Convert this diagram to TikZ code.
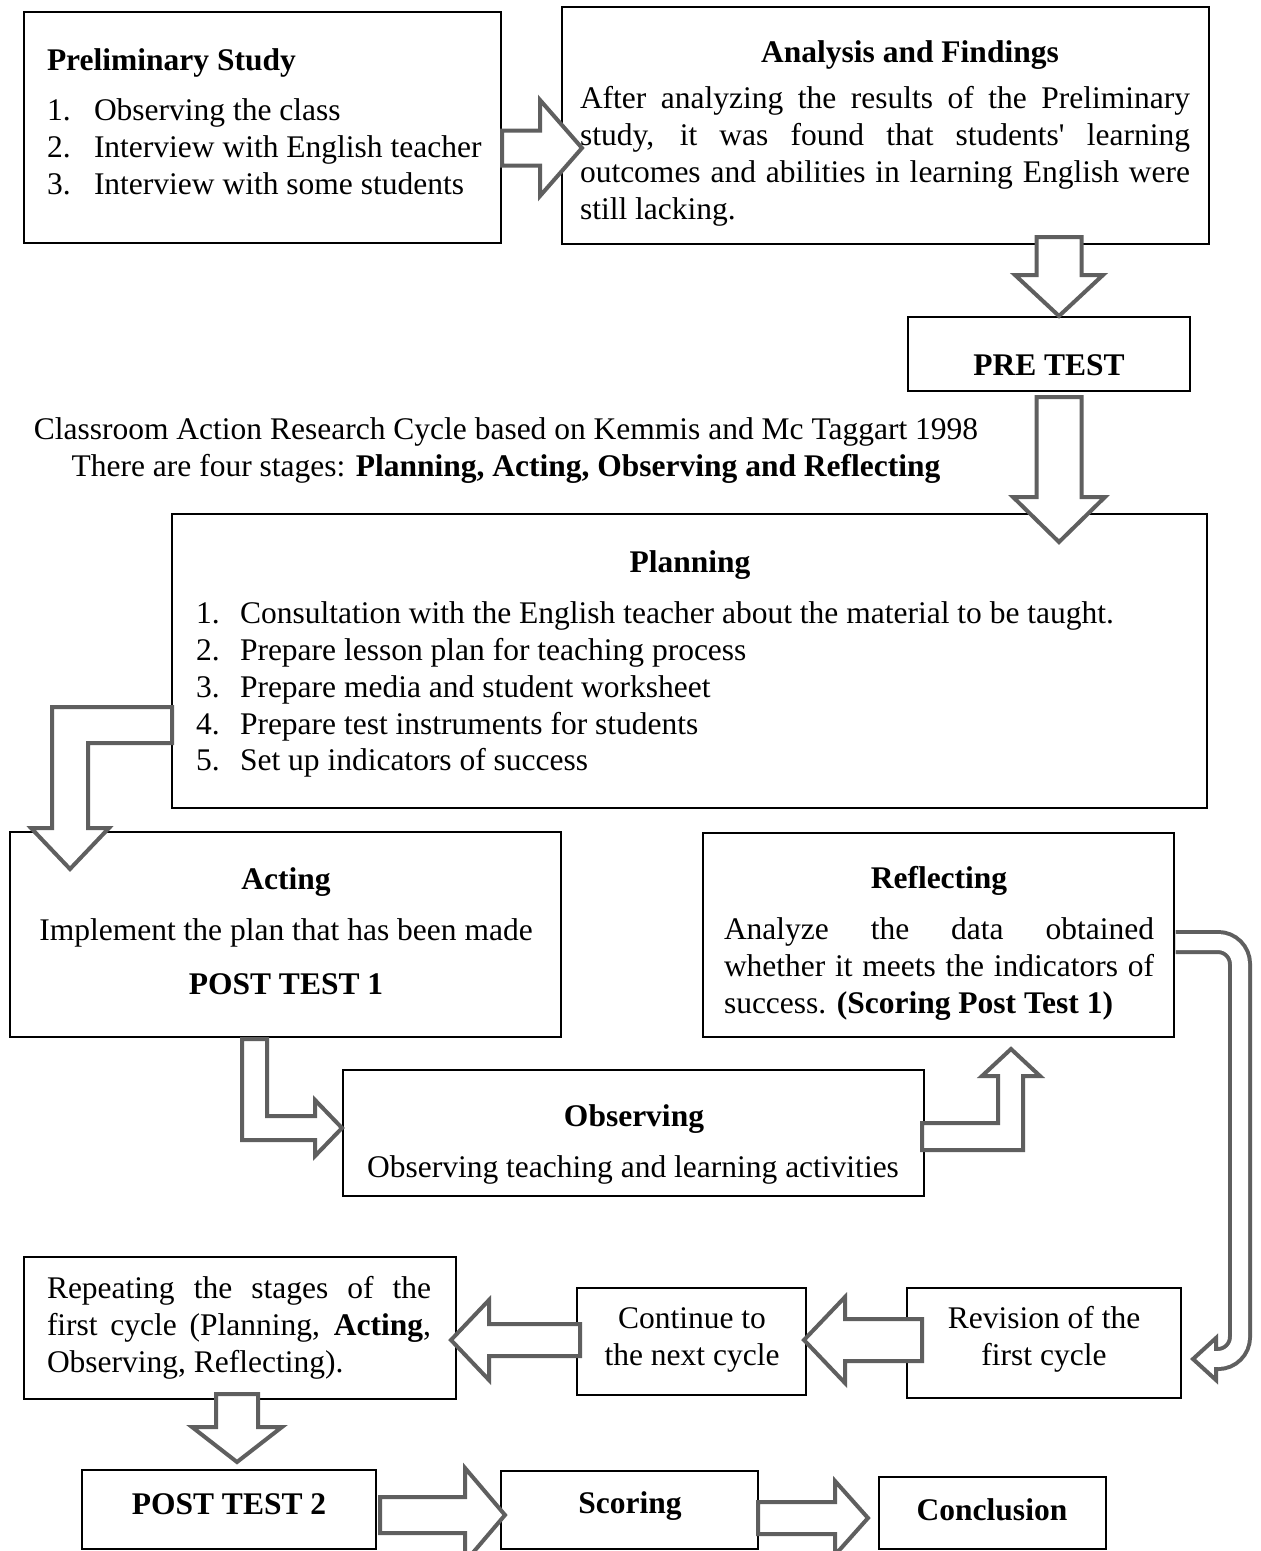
\documentclass[tikz,border=0pt]{standalone}
\usepackage{fontspec}
\setmainfont{Liberation Serif}
\definecolor{agray}{RGB}{95,95,95}
\newcommand\fs{\fontsize{31.5}{37}\selectfont}
\newcommand\mybox[5]{\node[box, minimum width={#4-#2}, minimum height={#5-#3}] (#1) at ({(#2+#4)/2},{(#3+#5)/2}) {};}
\begin{document}
\begin{tikzpicture}[x=1pt,y=-1pt,
  box/.style={draw=black, line width=1.5pt, inner sep=0pt, outer sep=0pt},
  txt/.style={inner sep=0pt, outer sep=0pt, font=\fs},
  lt/.style={txt, anchor=base west},
  ct/.style={txt, anchor=base},
  blk/.style={draw=agray, line width=4pt, fill=white, line join=miter, miter limit=10}]
\useasboundingbox[fill=white] (0,0) rectangle (1261,1551);

% ---------- boxes ----------
\mybox{prelim}{24}{12}{501}{243}
\mybox{analysis}{562}{7}{1209}{244}
\mybox{pre}{908}{317}{1190}{391}
\mybox{planning}{172}{514}{1207}{808}
\mybox{acting}{10}{832}{561}{1037}
\mybox{reflect}{703}{833}{1174}{1037}
\mybox{observe}{343}{1070}{924}{1196}
\mybox{repeat}{24}{1257}{456}{1399}
\mybox{cont}{577}{1288}{806}{1395}
\mybox{revision}{907}{1288}{1181}{1398}
\mybox{posttwo}{82}{1470}{376}{1549}
\mybox{scoring}{501}{1471}{758}{1549}
\mybox{conclusion}{879}{1477}{1106}{1549}

% ---------- texts ----------
\node[lt] (psT) at (47,70) {\textbf{Preliminary Study}};
\node[lt] (ps1n) at (47,120) {1.};
\node[lt] (ps1) at (94,120) {Observing the class};
\node[lt] (ps2n) at (47,157) {2.};
\node[lt] (ps2) at (94,157) {Interview with English teacher};
\node[lt] (ps3n) at (47,194) {3.};
\node[lt] (ps3) at (94,194) {Interview with some students};

\node[ct] (anT) at (910,62) {\textbf{Analysis and Findings}};
\node[lt] (an1) at (580,108) {\makebox[610pt][s]{After analyzing the results of the Preliminary}};
\node[lt] (an2) at (580,145) {\makebox[610pt][s]{study, it was found that students\textquotesingle{} learning}};
\node[lt] (an3) at (580,182) {\makebox[610pt][s]{outcomes and abilities in learning English were}};
\node[lt] (an4) at (580,219) {still lacking.};

\node[ct] (preT) at (1049,375) {\textbf{PRE TEST}};

\node[ct] (cap1) at (506,439) {Classroom Action Research Cycle based on Kemmis and Mc Taggart 1998};
\node[ct] (cap2) at (506,476) {There are four stages: \textbf{Planning, Acting, Observing and Reflecting}};

\node[ct] (plT) at (690,572) {\textbf{Planning}};
\node[lt] (pl1n) at (196,623) {1.};
\node[lt] (pl1) at (240,623) {Consultation with the English teacher about the material to be taught.};
\node[lt] (pl2n) at (196,660) {2.};
\node[lt] (pl2) at (240,660) {Prepare lesson plan for teaching process};
\node[lt] (pl3n) at (196,697) {3.};
\node[lt] (pl3) at (240,697) {Prepare media and student worksheet};
\node[lt] (pl4n) at (196,734) {4.};
\node[lt] (pl4) at (240,734) {Prepare test instruments for students};
\node[lt] (pl5n) at (196,770) {5.};
\node[lt] (pl5) at (240,770) {Set up indicators of success};

\node[ct] (acT) at (286,889) {\textbf{Acting}};
\node[ct] (ac1) at (286,940) {Implement the plan that has been made};
\node[ct] (ac2) at (286,994) {\textbf{POST TEST 1}};

\node[ct] (reT) at (939,888) {\textbf{Reflecting}};
\node[lt] (re1) at (724,939) {\makebox[430pt][s]{Analyze the data obtained}};
\node[lt] (re2) at (724,976) {\makebox[430pt][s]{whether it meets the indicators of}};
\node[lt] (re3) at (724,1013) {success. \textbf{(Scoring Post Test 1)}};

\node[ct] (obT) at (634,1126) {\textbf{Observing}};
\node[ct] (ob1) at (633,1177) {Observing teaching and learning activities};

\node[lt] (rp1) at (47,1298) {\makebox[384pt][s]{Repeating the stages of the}};
\node[lt] (rp2) at (47,1335) {\makebox[384pt][s]{first cycle (Planning, \textbf{Acting},}};
\node[lt] (rp3) at (47,1372) {Observing, Reflecting).};

\node[ct] (co1) at (692,1328) {Continue to};
\node[ct] (co2) at (692,1365) {the next cycle};

\node[ct] (rv1) at (1044,1328) {Revision of the};
\node[ct] (rv2) at (1044,1365) {first cycle};

\node[ct] (p2T) at (229,1514) {\textbf{POST TEST 2}};
\node[ct] (scT) at (630,1513) {\textbf{Scoring}};
\node[ct] (cnT) at (992,1520) {\textbf{Conclusion}};

% ---------- block arrows ----------
% preliminary -> analysis
\draw[blk] (502,130.5) -- (540,130.5) -- (540,100) -- (582,148) -- (540,196) -- (540,165.5) -- (502,165.5) -- cycle;
% analysis -> pre test
\draw[blk] (1036.5,237) -- (1081.5,237) -- (1081.5,275) -- (1103,275) -- (1059,316) -- (1015,275) -- (1036.5,275) -- cycle;
% pre test -> planning
\draw[blk] (1036.5,397) -- (1081.5,397) -- (1081.5,497) -- (1105,497) -- (1059,542) -- (1013,497) -- (1036.5,497) -- cycle;
% planning -> acting (bent)
\draw[blk] (172,707) -- (52,707) -- (52,828) -- (31,828) -- (70,869) -- (109,828) -- (88,828) -- (88,743) -- (172,743) -- cycle;
% acting -> observing (L)
\draw[blk] (242,1039) -- (267,1039) -- (267,1116) -- (315,1116) -- (315,1100) -- (342,1128) -- (315,1156) -- (315,1140) -- (242,1140) -- cycle;
% observing -> reflecting (L up)
\draw[blk] (922,1123) -- (998,1123) -- (998,1076) -- (982,1076) -- (1011,1049) -- (1040,1076) -- (1023,1076) -- (1023,1150) -- (922,1150) -- cycle;
% reflecting -> revision (rounded)
\draw[draw=agray, line width=4pt, double=white, double distance=16pt, rounded corners=22pt]
  (1175.5,942) -- (1240,942) -- (1240,1359) -- (1216,1359);
\draw[blk] (1216,1338) -- (1193,1359) -- (1216,1380) -- cycle;
\fill[white] (1213,1351) rectangle (1219,1367);
% revision -> continue
\draw[blk] (922,1319) -- (845,1319) -- (845,1297) -- (804,1340) -- (845,1383) -- (845,1361) -- (922,1361) -- cycle;
% continue -> repeating
\draw[blk] (580,1324) -- (489,1324) -- (489,1300) -- (451,1340) -- (489,1380) -- (489,1356) -- (580,1356) -- cycle;
% repeating -> post test 2
\draw[blk] (216,1394) -- (258,1394) -- (258,1427) -- (282,1427) -- (237,1462) -- (192,1427) -- (216,1427) -- cycle;
% post test 2 -> scoring
\draw[blk] (380,1497) -- (465,1497) -- (465,1468) -- (505,1515) -- (465,1562) -- (465,1533) -- (380,1533) -- cycle;
% scoring -> conclusion
\draw[blk] (758,1502) -- (835,1502) -- (835,1481) -- (868,1518) -- (835,1555) -- (835,1534) -- (758,1534) -- cycle;
\end{tikzpicture}
\end{document}
